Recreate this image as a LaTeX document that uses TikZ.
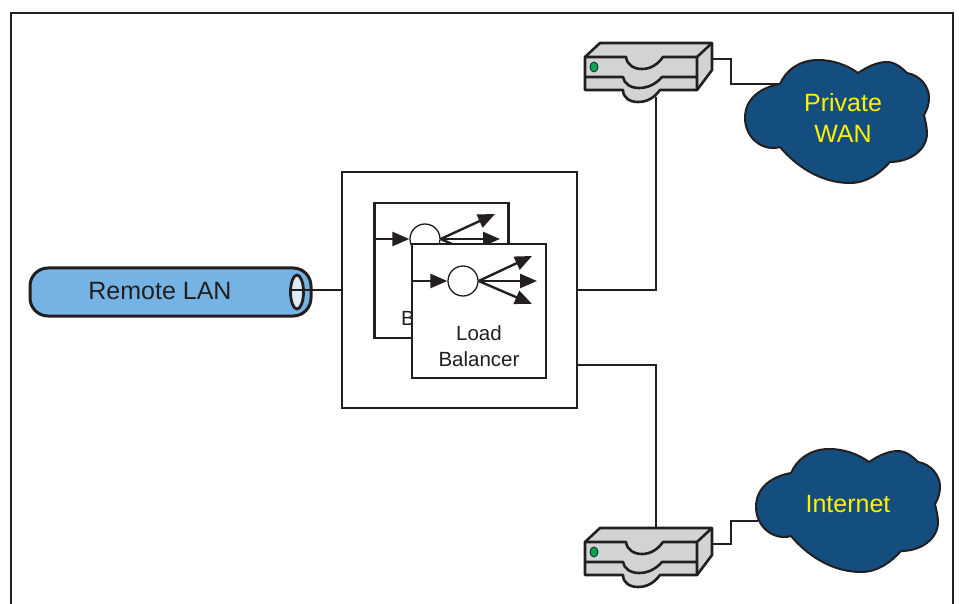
\documentclass[tikz,border=0pt]{standalone}
\usepackage{fontspec}
\setmainfont{Liberation Sans}
\usetikzlibrary{arrows.meta,shapes.geometric}
\definecolor{inkdark}{HTML}{231F20}
\definecolor{pipeblue}{HTML}{74B3E3}
\definecolor{pipelight}{HTML}{DCEBF8}
\definecolor{cloudblue}{HTML}{144E7F}
\definecolor{cloudtext}{HTML}{FFF200}
\definecolor{routergray}{HTML}{D1D3D4}
\definecolor{ledgreen}{HTML}{00A651}
\begin{document}
\begin{tikzpicture}[
  x=1pt, y=-1pt,
  >={Triangle[length=17pt,width=14pt]},
  box/.style={rectangle, draw=inkdark, line width=2.7pt, fill=white, inner sep=0pt},
  lbbox/.style={box, minimum width=134pt, minimum height=134pt},
  lbtext/.style={align=center, text=inkdark, font=\fontsize{20.5}{26}\selectfont},
  disp/.style={circle, draw=inkdark, line width=1.3pt, fill=white, minimum size=30pt, inner sep=0pt},
  pipe/.style={rectangle, rounded corners=18pt, draw=inkdark, line width=3pt, fill=pipeblue, minimum width=281pt, minimum height=48pt, inner sep=0pt},
  pipeend/.style={ellipse, draw=inkdark, line width=2.8pt, fill=pipelight, minimum width=13pt, minimum height=34pt, inner sep=0pt},
  cloudlabel/.style={align=center, text=cloudtext, font=\fontsize{25}{31}\selectfont},
  link/.style={draw=inkdark, line width=2.6pt},
  flow/.style={->, draw=inkdark, line width=2.4pt},
  pics/router/.style={code={
    \draw[inkdark, fill=routergray, line width=2.6pt, line join=round]
      (0,0) -- (15,-14) -- (127,-14) -- (127,13) -- (112,33) -- (75,33)
      .. controls (69,41) and (62,45) .. (53,45)
      .. controls (45,45) and (38,41) .. (38,33) -- (0,33) -- cycle;
    \draw[inkdark, line width=2.6pt, line join=round]
      (0,0) -- (41,0) .. controls (42,8) and (49,12) .. (57,12)
      .. controls (66,12) and (73,7) .. (78,0) -- (112,0) -- (127,-14)
      (112,0) -- (112,33)
      (0,20) -- (38,20) .. controls (39,27) and (46,31) .. (54,31)
      .. controls (63,31) and (71,27) .. (77,20) -- (112,20);
    \node (-led) [ellipse, draw=inkdark, line width=0.8pt, fill=ledgreen, minimum width=8pt, minimum height=10pt, inner sep=0pt] at (9,10) {};
    \coordinate (-east) at (127,2);
    \coordinate (-south) at (71,40);
    \coordinate (-north) at (71,-14);
  }},
  pics/netcloud/.style={code={
    \draw[inkdark, fill=cloudblue, line width=2pt]
      (0,0) .. controls (5,-12) and (18,-24) .. (38,-24)
      .. controls (53,-24) and (67,-19) .. (78,-11)
      .. controls (87,-17) and (97,-22) .. (107,-22)
      .. controls (115,-22) and (122,-16) .. (127,-11)
      .. controls (140,-9) and (149,3) .. (149,13)
      .. controls (149,21) and (147,26) .. (144,31)
      .. controls (145,36) and (147,43) .. (147,49)
      .. controls (147,66) and (130,78) .. (110,78)
      .. controls (100,89) and (87,99) .. (70,99)
      .. controls (40,99) and (15,81) .. (0,63)
      .. controls (-17,68) and (-35,54) .. (-35,34)
      .. controls (-35,13) and (-17,3) .. (0,0) -- cycle;
    \coordinate (-port) at (0,0);
    \coordinate (-west) at (-33,48);
  }}
]
\useasboundingbox (0,0) rectangle (959,604);

% Outer frame
\coordinate (framebl) at (11,604);
\coordinate (frametl) at (11,13);
\coordinate (frametr) at (953,13);
\coordinate (framebr) at (953,604);
\draw[inkdark, line width=2.7pt] (framebl) -- (frametl) -- (frametr) -- (framebr);

% Load balancer chassis
\node (chassis) [box, minimum width=235pt, minimum height=236pt] at (459.5,290) {};
\coordinate (chassisout) at (577,365);

% Rear balancer
\node (lbback) [lbbox, minimum height=135pt] at (441.5,270.5) {};
\node (lbbacktext) [lbtext] at (441.5,305.5) {Load\\Balancer};
\node (dispback) [disp] at (425,239) {};
\coordinate (backa) at (495,214);
\coordinate (backb) at (500,239);
\coordinate (backc) at (495,263);
\draw[flow] (lbback.west |- dispback) -- (dispback);
\draw[flow] (dispback.east) -- (backa);
\draw[flow] (dispback.east) -- (backb);
\draw[flow] (dispback.east) -- (backc);

% Front balancer
\node (lbfront) [lbbox] at (479,311) {};
\node (lbfronttext) [lbtext] at (479,346) {Load\\Balancer};
\node (dispfront) [disp] at (463,281) {};
\coordinate (fronta) at (532,256);
\coordinate (frontb) at (537,281);
\coordinate (frontc) at (532,304);
\draw[flow] (lbfront.west |- dispfront) -- (dispfront);
\draw[flow] (dispfront.east) -- (fronta);
\draw[flow] (dispfront.east) -- (frontb);
\draw[flow] (dispfront.east) -- (frontc);

% Remote side
\node (lan) [pipe] at (170.5,292) {};
\node (lantext) [text=inkdark, font=\fontsize{25}{30}\selectfont] at (160,291) {Remote LAN};
\node (lanport) [pipeend] at (297,292) {};
\draw[link] (lanport.west |- chassis.west) -- (chassis.west);

% Routers and clouds
\pic (wanrouter) at (585,57) {router};
\pic (inetrouter) at (585,542) {router};
\pic (wan) at (780,84) {netcloud};
\pic (inet) at (791,473) {netcloud};
\node (wanlabel) [cloudlabel] at (843,118) {Private\\WAN};
\node (inetlabel) [cloudlabel] at (848,504) {Internet};

% Connections
\draw[link] (wanrouter-south) |- (chassis.east);
\draw[link] (inetrouter-north) |- (chassisout);
\draw[link] (wanrouter-east) -- ++(19,0) |- (wan-port);
\draw[link] (inetrouter-east) -- ++(19,0) |- (inet-west);

\end{tikzpicture}
\end{document}
